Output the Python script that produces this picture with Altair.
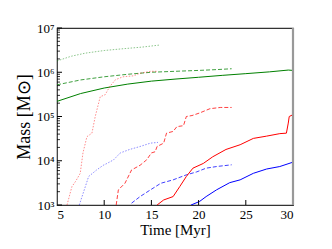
import altair as alt
import pandas as pd

# ---- data ----
gs_t = [5, 7.5, 10, 12.5, 15, 17.5, 20, 22.5, 25, 27.5, 29.5, 30]
gs_m = [2.2e5, 3.3e5, 4.4e5, 5.4e5, 6.3e5, 7.0e5, 7.7e5, 8.5e5, 9.3e5, 1.02e6, 1.12e6, 1.1e6]

gd_t = [5, 7.5, 10, 12.5, 15, 17.5, 20, 22, 23.5]
gd_m = [5.2e5, 6.7e5, 7.9e5, 9.0e5, 1.0e6, 1.05e6, 1.1e6, 1.15e6, 1.2e6]

gl_t = [5, 6.5, 8, 10, 12, 14, 15.8]
gl_m = [1.8e6, 2.3e6, 2.7e6, 3.1e6, 3.4e6, 3.7e6, 4.1e6]

rl_t = [6.06, 6.58, 7.0, 7.46, 7.75, 8.17, 8.7, 9.05, 9.58, 10.1, 10.6, 11.2, 12.0, 13.1, 13.8, 14.9, 15.7]
rl_m = [1.0e3, 2.6e3, 3.5e3, 5.2e3, 1.5e4, 3.5e4, 4.2e4, 1.0e5, 2.8e5, 3.1e5, 4.8e5, 6.8e5, 7.9e5, 8.3e5, 9.5e5, 1.05e6, 1.05e6]

bl_t = [7.36, 8.0, 8.35, 9.2, 9.9, 10.3, 11.0, 11.7, 12.7, 13.8, 14.9, 15.7]
bl_m = [1.0e3, 2.6e3, 4.4e3, 6.2e3, 7.9e3, 8.7e3, 1.05e4, 1.5e4, 1.8e4, 2.1e4, 2.5e4, 2.6e4]

rd_t = [11.27, 11.5, 12.2, 12.9, 13.8, 14.5, 15.0, 15.4, 15.6, 16.3, 16.6, 17.3, 17.7, 18.4, 18.7, 19.3, 20.1, 21.2, 22.3, 23.5]
rd_m = [1.0e3, 2.2e3, 3.1e3, 6.2e3, 7.9e3, 1.05e4, 1.5e4, 1.6e4, 2.1e4, 2.5e4, 4.2e4, 4.6e4, 5.9e4, 6.2e4, 1.0e5, 1.05e5, 1.2e5, 1.5e5, 1.6e5, 1.6e5]

bd_t = [12.9, 13.8, 14.9, 16.0, 17.3, 18.7, 19.8, 20.8, 21.9, 23.5]
bd_m = [1.1e3, 1.55e3, 2.2e3, 3.1e3, 3.7e3, 4.8e3, 5.6e3, 6.8e3, 7.4e3, 8.1e3]

rs_t = [15.6, 16.3, 17.3, 18.0, 18.7, 19.4, 20.5, 21.5, 22.9, 24.4, 25.8, 27.2, 28.6, 29.3, 29.5, 29.6, 30.0]
rs_m = [1.0e3, 1.3e3, 1.55e3, 2.6e3, 4.4e3, 6.8e3, 8.7e3, 1.23e4, 1.8e4, 2.3e4, 3.2e4, 3.6e4, 4.1e4, 4.2e4, 7.1e4, 1.0e5, 1.1e5]

bs_t = [19.2, 20.1, 20.8, 21.9, 23.3, 24.4, 25.8, 27.2, 28.6, 30.0]
bs_m = [1.0e3, 1.2e3, 1.55e3, 2.2e3, 3.2e3, 3.7e3, 5.2e3, 6.5e3, 7.4e3, 9.3e3]

x_ticks = [5, 10, 15, 20, 25, 30]
y_major = [1e3, 1e4, 1e5, 1e6, 1e7]
y_minor = [k * 10 ** e for e in range(3, 7) for k in range(2, 10)]

GREEN, RED, BLUE = "#008000", "#ff0000", "#0000ff"
series = [
    ("gs", gs_t, gs_m, GREEN, 1.0, []),
    ("gd", gd_t, gd_m, GREEN, 0.75, [4, 2]),
    ("gl", gl_t, gl_m, GREEN, 0.45, [1.5, 1.5]),
    ("rl", rl_t, rl_m, RED, 0.45, [1.5, 1.5]),
    ("bl", bl_t, bl_m, BLUE, 0.45, [1.5, 1.5]),
    ("rd", rd_t, rd_m, RED, 0.75, [4, 2]),
    ("bd", bd_t, bd_m, BLUE, 0.75, [4, 2]),
    ("rs", rs_t, rs_m, RED, 1.0, []),
    ("bs", bs_t, bs_m, BLUE, 1.0, []),
]

xs = alt.Scale(domain=[5, 30], nice=False)
ys = alt.Scale(type="log", domain=[1e3, 1e7], nice=False)
FONT = "Liberation Serif"

sup = ("replace(replace(replace(replace(replace('1' + '0' + format(round(log(datum.value)/LN10), 'd'),"
       " '3', '³'), '4', '⁴'), '5', '⁵'), '6', '⁶'), '7', '⁷')")

X = alt.X("t:Q", scale=xs, title="Time [Myr]",
          axis=alt.Axis(values=x_ticks, tickSize=0, labelPadding=3, titlePadding=1,
                        grid=False, domain=False))
Y = alt.Y("m:Q", scale=ys, title="Mass [M\u2299]",
          axis=alt.Axis(values=y_major, tickSize=0, labelPadding=3, titlePadding=3,
                        titleFontSize=18, grid=False, domain=False, labelExpr=sup))

layers = []
for name, t, m, col, op, dash in series:
    df = pd.DataFrame({"t": t, "m": m})
    mk = dict(color=col, opacity=op, strokeWidth=1.0, clip=True)
    if dash:
        mk["strokeDash"] = dash
    layers.append(alt.Chart(df).mark_line(**mk).encode(x=X, y=Y))

# inward ticks
ymaj = pd.DataFrame({"m": y_major})
ymin = pd.DataFrame({"m": y_minor})
xt = pd.DataFrame({"t": x_ticks[1:-1]})
layers.append(alt.Chart(ymaj).mark_rule(color="black", strokeWidth=1).encode(
    y=Y, x=alt.value(0), x2=alt.value(5)))
layers.append(alt.Chart(ymin).mark_rule(color="black", strokeWidth=0.8).encode(
    y=Y, x=alt.value(0), x2=alt.value(3)))
layers.append(alt.Chart(xt).mark_rule(color="black", strokeWidth=1).encode(
    x=X, y=alt.value(177), y2=alt.value(172)))
# grey right edge of the frame
layers.append(alt.Chart(pd.DataFrame({"t": [30]})).mark_rule(color="#999999", strokeWidth=2.2).encode(
    x=X, y=alt.value(0), y2=alt.value(177)))

chart = alt.layer(*layers).properties(
    width=236, height=177,
    background="white",
    autosize=alt.AutoSizeParams(type="none"),
    padding={"left": 49, "top": 20, "right": 20, "bottom": 40},
).configure_view(stroke="#333333", strokeWidth=1.2).configure_axis(
    labelFont=FONT, titleFont=FONT, labelFontSize=13, titleFontSize=15,
    labelColor="black", titleColor="black", titleFontWeight="normal",
)

chart.save("out.html", embed_options={"renderer": "svg", "actions": False})
